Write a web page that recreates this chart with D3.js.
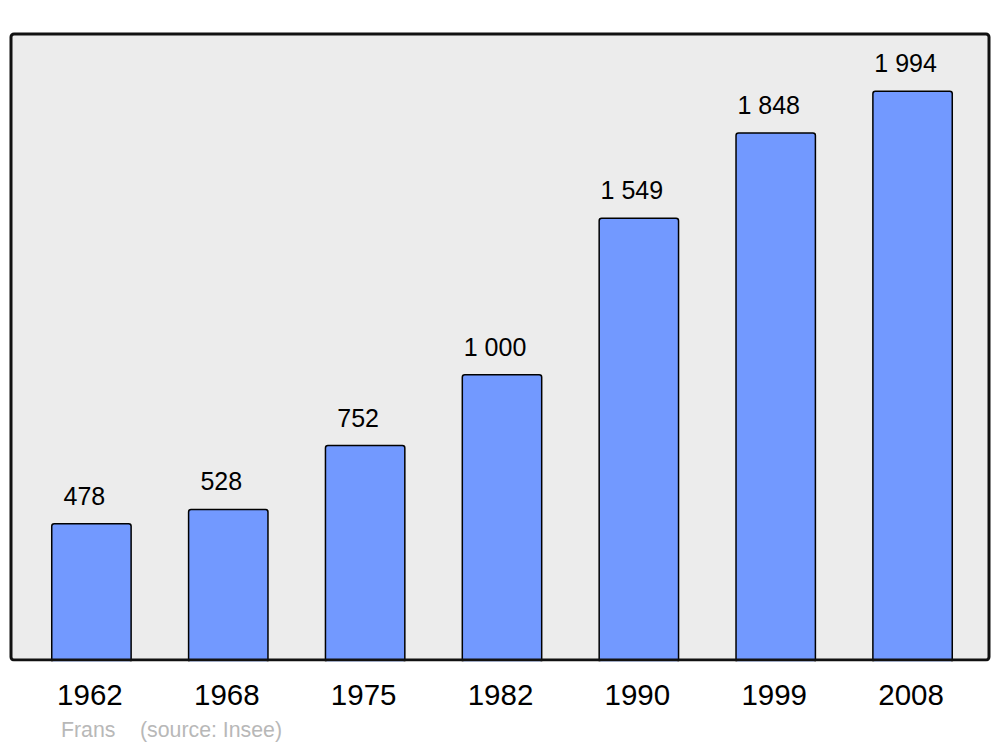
<!DOCTYPE html>
<html>
<head>
<meta charset="utf-8">
<script src="https://cdn.jsdelivr.net/npm/d3@7"></script>
<style>
  body { margin: 0; background: #fff; }
  svg { display: block; font-family: "Liberation Sans", Arial, sans-serif; }
</style>
</head>
<body>
<svg id="chart" width="1000" height="747"></svg>
<script>
const years = ['1962', '1968', '1975', '1982', '1990', '1999', '2008'];
const population = [478, 528, 752, 1000, 1549, 1848, 1994];
const valueLabels = ['478', '528', '752', '1 000', '1 549', '1 848', '1 994'];

const svg = d3.select('#chart');
const frame = { left: 11, right: 989, top: 34, bottom: 660 };

const x = d3.scaleBand()
  .domain(years)
  .range([23, 981])
  .paddingInner(0.42)
  .paddingOuter(0.21);

const y = d3.scaleLinear()
  .domain([0, 2195])
  .range([frame.bottom, frame.top]);

// background panel
svg.append('rect')
  .attr('x', frame.left)
  .attr('y', frame.top)
  .attr('width', frame.right - frame.left)
  .attr('height', frame.bottom - frame.top)
  .attr('rx', 3)
  .attr('fill', '#ececec');

const data = years.map((d, i) => ({ year: d, value: population[i], label: valueLabels[i] }));

svg.append('g')
  .selectAll('rect')
  .data(data)
  .join('rect')
  .attr('x', d => x(d.year))
  .attr('y', d => y(d.value))
  .attr('width', x.bandwidth())
  .attr('height', d => y(0) - y(d.value) + 3)
  .attr('rx', 2.5)
  .attr('fill', '#7299ff')
  .attr('stroke', '#000')
  .attr('stroke-width', 1.5);

// frame border on top of bars
svg.append('rect')
  .attr('x', frame.left)
  .attr('y', frame.top)
  .attr('width', frame.right - frame.left)
  .attr('height', frame.bottom - frame.top)
  .attr('rx', 3)
  .attr('fill', 'none')
  .attr('stroke', '#111')
  .attr('stroke-width', 3);

// mask bar overflow below frame
svg.append('rect')
  .attr('x', 0)
  .attr('y', frame.bottom + 1.5)
  .attr('width', 1000)
  .attr('height', 10)
  .attr('fill', '#fff');

svg.append('g')
  .selectAll('text')
  .data(data)
  .join('text')
  .attr('x', d => x(d.year) + x.bandwidth() / 2 - 7)
  .attr('y', d => y(d.value) - 19)
  .attr('text-anchor', 'middle')
  .attr('font-size', 25)
  .attr('fill', '#000')
  .text(d => d.label);

const xAxis = svg.append('g')
  .attr('transform', `translate(0,${frame.bottom})`)
  .call(d3.axisBottom(x).tickSize(0).tickPadding(0));
xAxis.select('.domain').remove();
xAxis.selectAll('text')
  .attr('y', 45)
  .attr('dy', null)
  .attr('dx', -1.5)
  .attr('font-size', 29.5)
  .attr('font-family', '"Liberation Sans", Arial, sans-serif')
  .attr('fill', '#000');

svg.append('text')
  .attr('x', 61)
  .attr('y', 737)
  .attr('font-size', 21.3)
  .attr('fill', '#b8b8b8')
  .text('Frans');

svg.append('text')
  .attr('x', 140)
  .attr('y', 737)
  .attr('font-size', 21.3)
  .attr('fill', '#b8b8b8')
  .text('(source: Insee)');
</script>
</body>
</html>
